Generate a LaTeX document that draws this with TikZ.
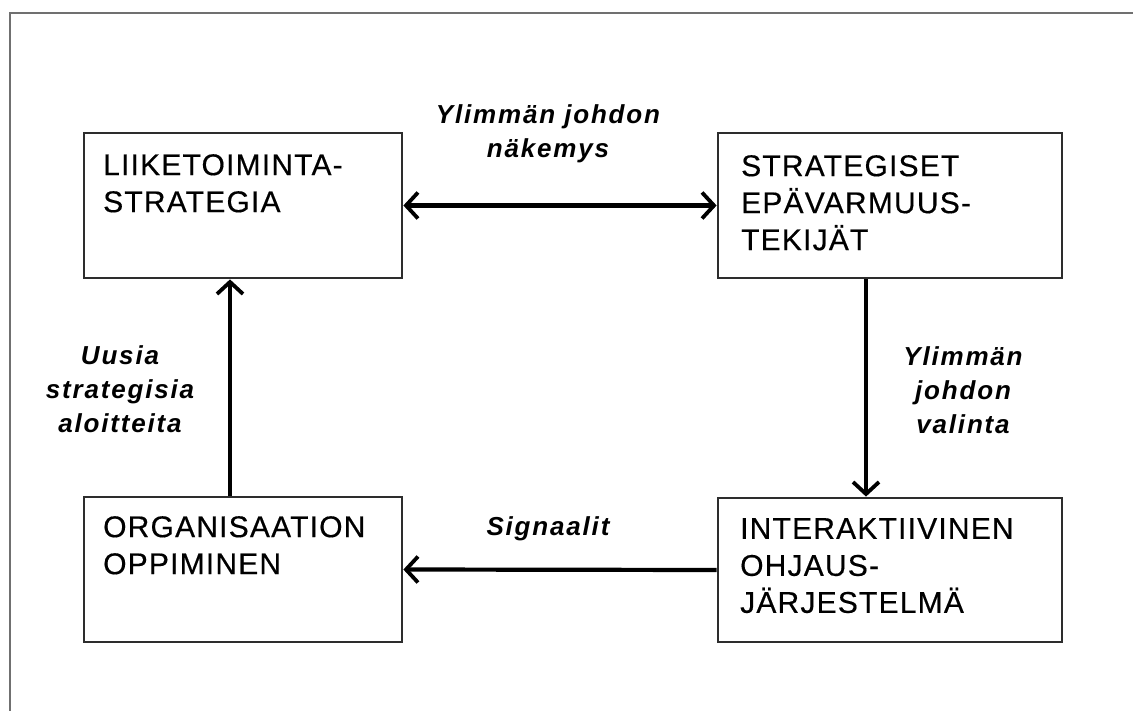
\documentclass[tikz,border=0pt]{standalone}
\usepackage{fontspec}
\setmainfont{Liberation Sans}
\usetikzlibrary{arrows.meta}
\newfontfamily\boxfont[LetterSpace=4,FakeBold=0.4]{Liberation Sans}
\newfontfamily\lblfont[LetterSpace=7]{Liberation Sans}
\definecolor{framegray}{RGB}{112,112,112}
\definecolor{boxline}{RGB}{45,45,45}
\tikzset{
  boxnode/.style={draw=boxline, line width=2.8pt, rectangle, inner sep=0pt},
  boxtext/.style={anchor=north west, inner sep=0pt, align=left,
    font=\boxfont\fontsize{30}{37}\selectfont},
  lbl/.style={inner sep=0pt, align=center,
    font=\lblfont\bfseries\itshape\fontsize{26}{34}\selectfont},
  arr/.style={line width=4.2pt, -{Straight Barb[length=12pt,width=26pt,line width=3.8pt]}},
  darr/.style={line width=4.2pt, {Straight Barb[length=12pt,width=26pt,line width=3.8pt]}-{Straight Barb[length=12pt,width=26pt,line width=3.8pt]}},
  frame/.style={draw=framegray, line width=2.8pt}
}
\begin{document}
\begin{tikzpicture}[x=1pt,y=-1pt]
\useasboundingbox (0,0) rectangle (1133,711);
\fill[white] (0,0) rectangle (1133,711);
\draw[frame] (10,715) -- (10,13) -- (1140,13);

\node[boxnode, minimum width=318pt, minimum height=145pt] (A) at (243,205.5) {};
\node[boxnode, minimum width=344pt, minimum height=145pt] (B) at (890,205.5) {};
\node[boxnode, minimum width=318pt, minimum height=145pt] (C) at (243,569.5) {};
\node[boxnode, minimum width=344pt, minimum height=144pt] (D) at (890,570) {};

\node[boxtext] (tA) at (103,154) {LIIKETOIMINTA-\\STRATEGIA};
\node[boxtext] (tB) at (741,155) {STRATEGISET\\EPÄVARMUUS-\\TEKIJÄT};
\node[boxtext] (tC) at (103,516) {ORGANISAATION\\OPPIMINEN};
\node[boxtext] (tD) at (740,518) {INTERAKTIIVINEN\\OHJAUS-\\JÄRJESTELMÄ};

\coordinate (rx) at (866,0);
\coordinate (lx) at (230,0);

\draw[darr] (A.east) -- (B.west);
\draw[arr] (B.south -| rx) -- (D.north -| rx);
\draw[arr] (D.west) -- (C.east);
\draw[arr] (C.north -| lx) -- (A.south -| lx);

\node[lbl, anchor=north] (l1) at (548,104) {Ylimmän johdon\\näkemys};
\node[lbl, anchor=north] (l2) at (963,346) {Ylimmän\\johdon\\valinta};
\node[lbl, anchor=base] (l3) at (548,535) {Signaalit};
\node[lbl, anchor=north] (l4) at (120,345) {Uusia\\strategisia\\aloitteita};
\end{tikzpicture}
\end{document}
